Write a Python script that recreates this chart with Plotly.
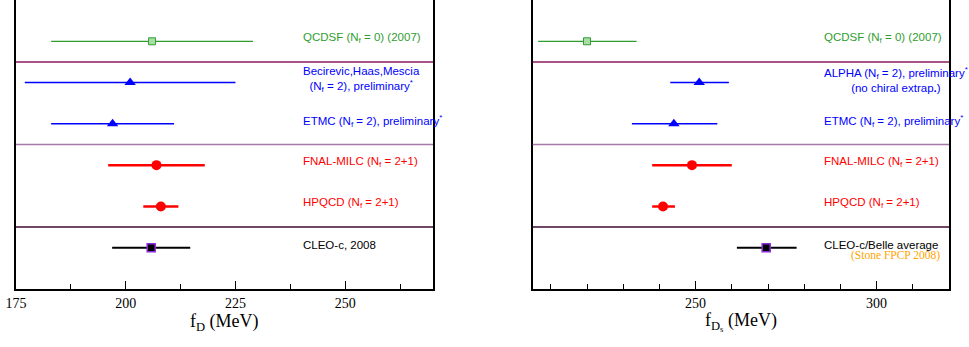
import plotly.graph_objects as go

# ---------------- data ----------------
fD_labels = [
    "QCDSF (N<sub>f</sub> = 0) (2007)",
    "Becirevic,Haas,Mescia<br>(N<sub>f</sub> = 2), preliminary<sup>*</sup>",
    "ETMC (N<sub>f</sub> = 2), preliminary<sup>*</sup>",
    "FNAL-MILC (N<sub>f</sub> = 2+1)",
    "HPQCD (N<sub>f</sub> = 2+1)",
    "CLEO-c, 2008",
]
fD_groups = ["quenched", "nf2", "nf2", "nf21", "nf21", "exp"]
fD_values = [206, 201, 197, 207, 208, 205.8]
fD_err_minus = [23, 24, 14, 11, 4, 8.9]
fD_err_plus = [23, 24, 14, 11, 4, 8.9]

fDs_labels = [
    "QCDSF (N<sub>f</sub> = 0) (2007)",
    "ALPHA (N<sub>f</sub> = 2), preliminary<sup>*</sup><br>(no chiral extrap<b>.</b>)",
    "ETMC (N<sub>f</sub> = 2), preliminary<sup>*</sup>",
    "FNAL-MILC (N<sub>f</sub> = 2+1)",
    "HPQCD (N<sub>f</sub> = 2+1)",
    "CLEO-c/Belle average",
]
fDs_groups = ["quenched", "nf2", "nf2", "nf21", "nf21", "exp"]
fDs_values = [220, 251, 244, 249, 241, 269.5]
fDs_err_minus = [13.5, 8, 11.6, 11, 3, 8.1]
fDs_err_plus = [13.7, 8.2, 12, 11, 3.3, 8.4]
fDs_note = "(Stone FPCP 2008)"

fD_ticks = [175, 200, 225, 250]
fDs_ticks = [250, 300]

# ---------------- styles ----------------
STYLE = {
    "quenched": dict(color="#2f9e2f", symbol="square", size=7, fill="#a8dca8",
                     line=dict(color="#2f9e2f", width=1), thick=1.2),
    "nf2": dict(color="#0000ff", symbol="triangle-up", size=10, fill="#0000ff",
                line=dict(color="#0000ff", width=0), thick=1.5),
    "nf21": dict(color="#ff0000", symbol="circle", size=10, fill="#ff0000",
                 line=dict(color="#ff0000", width=0), thick=2.5),
    "exp": dict(color="#000000", symbol="square", size=8, fill="#000000",
                line=dict(color="#8a2be2", width=1.5), thick=2),
}
SEP_COLORS = ["#8b1a5e", "#a878a8", "#3d0a30"]
SEP_POS = [0.5, 2.5, 4.5]
LABEL_FONT = "Liberation Sans, Arial, sans-serif"
SERIF = "Liberation Serif, Times New Roman, serif"

fig = go.Figure()


def add_panel(values, em, ep, groups, labels, xref, yref, text_x):
    for i, (v, m, p, g, lab) in enumerate(zip(values, em, ep, groups, labels)):
        s = STYLE[g]
        fig.add_trace(go.Scatter(
            x=[v], y=[i], mode="markers", xaxis=xref, yaxis=yref,
            marker=dict(symbol=s["symbol"], size=s["size"], color=s["fill"], line=s["line"]),
            error_x=dict(type="data", symmetric=False, array=[p], arrayminus=[m],
                         color=s["color"], thickness=s["thick"], width=0),
            showlegend=False, hoverinfo="skip",
        ))
        fig.add_annotation(
            x=text_x, y=i, xref=xref, yref=yref, text=lab, showarrow=False,
            xanchor="left", yanchor="middle", align="center", yshift=3,
            font=dict(family=LABEL_FONT, size=11.5, color=s["color"]),
        )
    for yy, c in zip(SEP_POS, SEP_COLORS):
        fig.add_shape(type="line", xref=xref + " domain", yref=yref, x0=0, x1=1, y0=yy, y1=yy,
                      line=dict(color=c, width=1.5))


add_panel(fD_values, fD_err_minus, fD_err_plus, fD_groups, fD_labels, "x", "y", 240)
add_panel(fDs_values, fDs_err_minus, fDs_err_plus, fDs_groups, fDs_labels, "x2", "y2", 285)

fig.add_annotation(x=318, y=5, xref="x2", yref="y2", text=fDs_note, showarrow=False,
                   xanchor="right", yanchor="middle", yshift=-8,
                   font=dict(family=SERIF, size=11.5, color="#ffa500"))

ydom = [58 / 347, 1.0]
tickfont = dict(family=SERIF, size=14, color="black")

common_x = dict(showgrid=False, zeroline=False, showline=True, linecolor="black", linewidth=1.5,
                ticks="inside", ticklen=8, tickwidth=1, tickcolor="black", tickfont=tickfont,
                automargin=False)
common_y = dict(range=[6, -1], showgrid=False, zeroline=False, showline=True, mirror=True,
                linecolor="black", linewidth=1.5, showticklabels=False, ticks="", domain=ydom,
                automargin=False)
top_x = dict(side="top", showgrid=False, zeroline=False, showline=False, ticks="inside",
             ticklen=6, tickwidth=1, tickcolor="black", showticklabels=False, automargin=False)

fig.update_layout(
    width=969, height=347, margin=dict(l=0, r=0, t=0, b=0, autoexpand=False),
    plot_bgcolor="white", paper_bgcolor="white",
    xaxis=dict(domain=[16 / 969, 433 / 969], range=[175, 270], tickvals=fD_ticks,
               minor=dict(dtick=12.5, tick0=175, ticks="inside", ticklen=5, tickcolor="black"),
               anchor="y", **common_x),
    yaxis=dict(anchor="x", **common_y),
    xaxis2=dict(domain=[532.7 / 969, 949 / 969], range=[205, 320], tickvals=fDs_ticks,
                minor=dict(dtick=10, tick0=200, ticks="inside", ticklen=5, tickcolor="black"),
                anchor="y2", **common_x),
    yaxis2=dict(anchor="x2", **common_y),
    xaxis3=dict(overlaying="x", anchor="y", range=[175, 270], tickvals=fD_ticks,
                minor=dict(dtick=12.5, tick0=175, ticks="inside", ticklen=3, tickcolor="black"),
                **top_x),
    xaxis4=dict(overlaying="x2", anchor="y2", range=[205, 320], tickvals=fDs_ticks,
                minor=dict(dtick=10, tick0=200, ticks="inside", ticklen=3, tickcolor="black"),
                **top_x),
)

titlefont = dict(family=SERIF, size=18, color="black")
fig.add_annotation(x=(16 + 433) / 2 / 969, y=0.072, xref="paper", yref="paper",
                   text="f<sub>D</sub> (MeV)", showarrow=False, xanchor="center", yanchor="middle",
                   font=titlefont)
fig.add_annotation(x=(532.7 + 949) / 2 / 969, y=0.072, xref="paper", yref="paper",
                   text="f<sub>D<sub>s</sub></sub> (MeV)", showarrow=False, xanchor="center",
                   yanchor="middle", font=titlefont)

fig.write_html("out.html", config={"displayModeBar": False},
               post_script="document.body.style.margin='0px';")
